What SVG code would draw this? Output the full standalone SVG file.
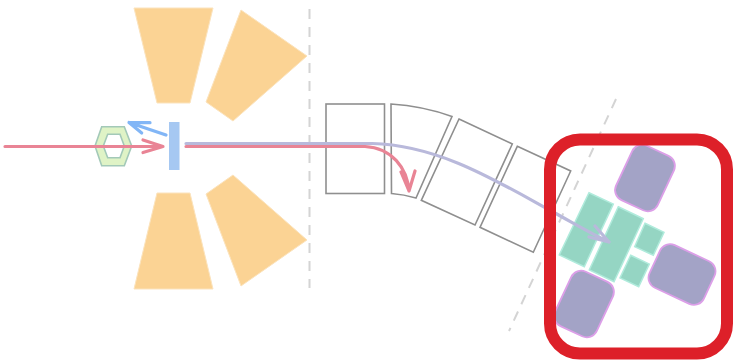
<svg xmlns="http://www.w3.org/2000/svg" width="735" height="362" viewBox="0 0 735 362">
<defs>
<style>
.orange{fill:#fbd394;stroke:#fbe3bd;stroke-width:1}
.box{fill:#fff;stroke:#8f8f8f;stroke-width:1.6;stroke-linejoin:miter}
.dash{fill:none;stroke:#d4d4d4;stroke-width:2;stroke-dasharray:10 8}
.green{fill:#95d5c3;stroke:#b0ebdc;stroke-width:1.5}
.purple{fill:#a3a3c6;stroke:#dc9fe8;stroke-width:1.8}
.lav{fill:none;stroke:#b9b9db;stroke-width:3.2;stroke-linecap:round;stroke-linejoin:round}
.red{fill:none;stroke:#e98495;stroke-width:3.2;stroke-linecap:round;stroke-linejoin:round}
.blue{fill:none;stroke:#82b6f6;stroke-width:3.2;stroke-linecap:round;stroke-linejoin:round}
</style>
</defs>
<rect width="735" height="362" fill="#fff"/>
<g id="dashes">
<path class="dash" d="M309.5 9V288"/>
<path class="dash" d="M616 99L509 331"/>
</g>
<g id="lens-top"><polygon class="orange" points="134,8 213,8 190,103 157,103"/></g>
<g id="lens-top-right"><polygon class="orange" points="241,10 307,56 233,121 206,102"/></g>
<g id="lens-bottom"><polygon class="orange" points="134,289 213,289 190,193 157,193"/></g>
<g id="lens-bottom-right"><polygon class="orange" points="241,286 307,240 233,175 206,194"/></g>
<g id="source"><path d="M95 146L101.700 126.700H124.300L131.700 146L124.300 165.700H101.700ZM103.300 146L107.700 157.700H120L124.300 146L120 134.300H107.700Z" fill="#dff3c6" fill-rule="evenodd" stroke="#a3c9b8" stroke-width="1.6"/></g>
<g id="target"><rect x="169" y="122" width="10.500" height="48" fill="#a6c8f2"/></g>
<g id="magnet-1"><rect class="box" x="326" y="104" width="58.500" height="89.500"/></g>
<g id="magnet-2"><path class="box" d="M391 104Q423 106 452 116.500L416 198Q404 194.500 391.500 193.500Z"/></g>
<g id="magnet-3"><polygon class="box" points="459,119 512.300,144 475,225 421.300,200.300"/></g>
<g id="magnet-4"><polygon class="box" points="517.300,146.300 570.700,171 533.300,252.300 480,227.300"/></g>
<g id="detector">
<polygon class="green" points="589,192.700 613.300,204 584.300,266.700 559.300,255"/>
<polygon class="green" points="618.300,206.700 643.300,218.700 614,281.700 589.300,270"/>
<polygon class="green" points="645,223.300 664,232.300 653.300,255.300 634.700,246.700"/>
<polygon class="green" points="630.700,255.300 649.300,264 638.700,286.700 620,278"/>
</g>
<g id="pole-top"><rect class="purple" x="622" y="148" width="46" height="60" rx="11" transform="rotate(25 645 178)"/></g>
<g id="pole-right"><rect class="purple" x="652" y="251" width="60" height="47" rx="11" transform="rotate(25 682 274.500)"/></g>
<g id="pole-bottom"><rect class="purple" x="561" y="274" width="46" height="60" rx="11" transform="rotate(25 584 304)"/></g>
<g id="connectors">
<path class="red" d="M5 146.500H163M143 140L163 146.500L143 152.500"/>
<path class="blue" d="M166 135L129 122.500M150 122.700L129 122.500L141.700 133"/>
<path class="lav" d="M186 143.500H372C440 145 500 183 553 212C575 224 592 234 609 242M595 226L609 242L589 237"/>
<path class="red" d="M186 146.500H365C392 148 407 168 409 191M401 172L409 191L415 171"/>
</g>
<g id="frame"><rect x="550" y="139.500" width="177" height="214" rx="30" fill="none" stroke="#dd2029" stroke-width="12"/></g>
</svg>
